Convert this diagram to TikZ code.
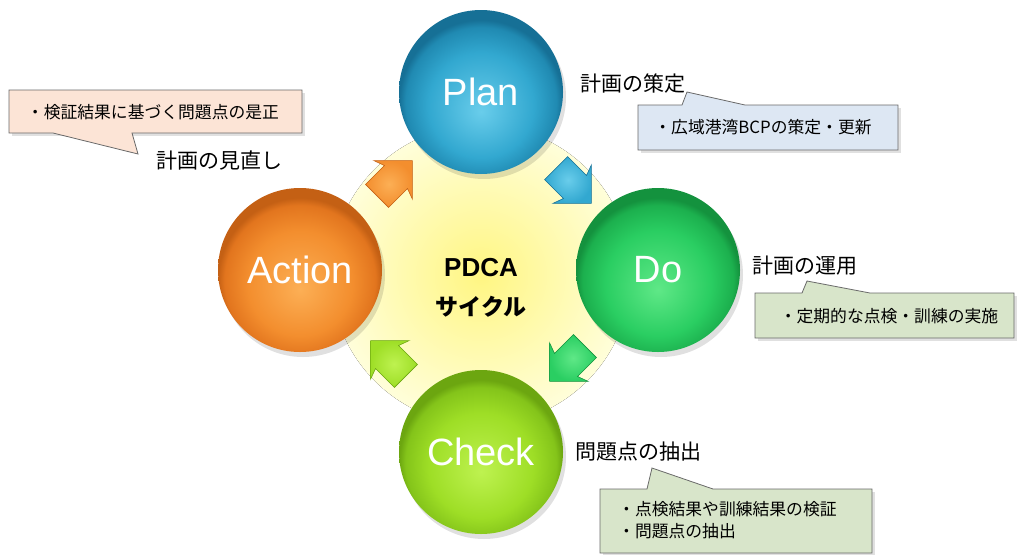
\documentclass[tikz,border=0pt]{standalone}
\usepackage{fontspec}
\setmainfont{Liberation Sans}
\newfontfamily\jp{Noto Sans CJK JP}
\usetikzlibrary{shapes.arrows}
\definecolor{planL}{RGB}{105,205,235}
\definecolor{planM}{RGB}{50,168,208}
\definecolor{planD}{RGB}{32,138,178}
\definecolor{planE}{RGB}{22,112,150}
\definecolor{doL}{RGB}{95,232,135}
\definecolor{doM}{RGB}{42,206,98}
\definecolor{doD}{RGB}{28,176,78}
\definecolor{doE}{RGB}{20,146,62}
\definecolor{chL}{RGB}{190,242,80}
\definecolor{chM}{RGB}{158,222,38}
\definecolor{chD}{RGB}{132,196,26}
\definecolor{chE}{RGB}{108,166,16}
\definecolor{acL}{RGB}{252,175,85}
\definecolor{acM}{RGB}{243,142,46}
\definecolor{acD}{RGB}{226,117,30}
\definecolor{acE}{RGB}{196,96,20}
\definecolor{pinkF}{RGB}{252,228,214}
\definecolor{blueF}{RGB}{221,231,243}
\definecolor{greenF}{RGB}{216,229,202}
\definecolor{boxD}{RGB}{105,105,105}
\definecolor{glowI}{RGB}{255,246,130}
\definecolor{glowO}{RGB}{255,254,218}
\pgfdeclareradialshading{planball}{\pgfpoint{0bp}{-6bp}}{color(0bp)=(planL); color(16bp)=(planM); color(23bp)=(planD); color(25bp)=(planE); color(50bp)=(planE)}
\pgfdeclareradialshading{doball}{\pgfpoint{0bp}{-6bp}}{color(0bp)=(doL); color(16bp)=(doM); color(23bp)=(doD); color(25bp)=(doE); color(50bp)=(doE)}
\pgfdeclareradialshading{chball}{\pgfpoint{0bp}{-6bp}}{color(0bp)=(chL); color(16bp)=(chM); color(23bp)=(chD); color(25bp)=(chE); color(50bp)=(chE)}
\pgfdeclareradialshading{acball}{\pgfpoint{0bp}{-6bp}}{color(0bp)=(acL); color(16bp)=(acM); color(23bp)=(acD); color(25bp)=(acE); color(50bp)=(acE)}
\tikzset{
  ball/.style={circle, minimum size=164pt, inner sep=0pt, text=white, font=\fontsize{38}{40}\selectfont},
  blockarrow/.style={single arrow, minimum height=50pt, inner sep=16pt, single arrow head extend=11pt, single arrow head indent=4pt, line width=0.6pt},
  callout/.style={draw=boxD, line width=0.8pt},
  heading/.style={font=\jp\fontsize{21}{25}\selectfont, inner sep=0pt, anchor=west},
  boxtext/.style={font=\jp\fontsize{16.8}{22}\selectfont, inner sep=0pt, align=left},
  shadowc/.style={fill=black, opacity=0.12}
}
\begin{document}
\begin{tikzpicture}[x=1pt,y=-1pt]
\useasboundingbox (0,0) rectangle (1017,555);
% glow
\fill[inner color=glowI, outer color=glowO] (481,275) circle (150);
\node (center) at (481,288) {};
% circle shadows
\fill[shadowc] (484,97) circle (82);
\fill[shadowc] (661,275) circle (82);
\fill[shadowc] (484,457) circle (82);
\fill[shadowc] (303,275) circle (82);
% circles
\node[ball, shading=planball] (plan) at (481,92) {Plan};
\node[ball, shading=doball] (do) at (658,270) {Do};
\node[ball, shading=chball] (check) at (481,452) {Check};
\node[ball, shading=acball] (action) at (300,270) {Action};
% center text
\node[font=\bfseries\fontsize{26}{28}\selectfont] (pdca) at (481,268) {PDCA};
\node[font=\jp\bfseries\fontsize{23}{26}\selectfont] (cycle) at (481,307) {サイクル};
% arrows
\node[blockarrow, rotate=45, inner color=acL, outer color=acM, draw=acE] (aAP) at (389,184) {};
\node[blockarrow, rotate=-45, inner color=planL, outer color=planM, draw=planE] (aPD) at (568,180) {};
\node[blockarrow, rotate=-135, inner color=doL, outer color=doM, draw=doE] (aDC) at (573,358) {};
\node[blockarrow, rotate=135, inner color=chL, outer color=chM, draw=chE] (aCA) at (394,364) {};
% callout: action
\fill[shadowc] (12,93) -- (305,93) -- (305,136) -- (12,136) -- cycle;
\filldraw[callout, fill=pinkF] (9,90) -- (302,90) -- (302,133) -- (132,133) -- (138,154) -- (53,133) -- (9,133) -- cycle;
\node[boxtext] (tA) at (153,112) {・検証結果に基づく問題点の是正};
\node[heading] (hA) at (156,160) {計画の見直し};
% callout: plan
\node[heading] (hP) at (580,84) {計画の策定};
\fill[shadowc] (641,108) -- (901,108) -- (901,153) -- (641,153) -- cycle;
\filldraw[callout, fill=blueF] (638,105) -- (682,105) -- (687,92) -- (745,105) -- (898,105) -- (898,150) -- (638,150) -- cycle;
\node[boxtext] (tP) at (763,127) {・広域港湾BCPの策定・更新};
% callout: do
\node[heading] (hD) at (752,266) {計画の運用};
\fill[shadowc] (758,296) -- (1017,296) -- (1017,341) -- (758,341) -- cycle;
\filldraw[callout, fill=greenF] (755,293) -- (802,293) -- (807,281) -- (870,293) -- (1014,293) -- (1014,338) -- (755,338) -- cycle;
\node[boxtext] (tD) at (889,316) {・定期的な点検・訓練の実施};
% callout: check
\node[heading] (hC) at (575,452) {問題点の抽出};
\fill[shadowc] (603,492) -- (875,492) -- (875,555) -- (603,555) -- cycle;
\filldraw[callout, fill=greenF] (600,489) -- (647,489) -- (652,468) -- (713,489) -- (872,489) -- (872,553) -- (600,553) -- cycle;
\node[boxtext, anchor=west] (tC1) at (618,509) {・点検結果や訓練結果の検証};
\node[boxtext, anchor=west] (tC2) at (618,531) {・問題点の抽出};
\end{tikzpicture}
\end{document}
